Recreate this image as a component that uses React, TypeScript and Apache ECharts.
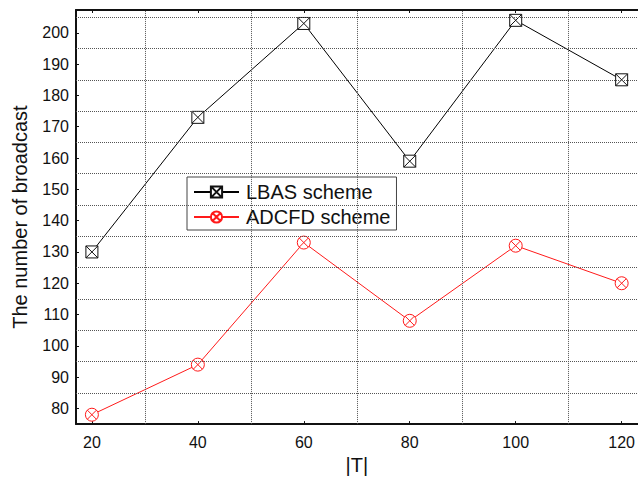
import React, { useEffect, useRef } from "react";
import * as echarts from "echarts";

const xValues = [20, 40, 60, 80, 100, 120];
const lbas = [130, 173, 203, 159, 204, 185];
const adcfd = [78, 94, 133, 108, 132, 120];
const xTickLabels = [20, 40, 60, 80, 100, 120];
const yTickLabels = [80, 90, 100, 110, 120, 130, 140, 150, 160, 170, 180, 190, 200];
const xGridValues = [30, 50, 70, 90, 110];
const yGridValues = [85, 95, 105, 115, 125, 135, 145, 155, 165, 175, 185, 195, 205];

const FONT = "Liberation Sans, Arial, Helvetica, sans-serif";
const SQUARE_X = "path://M0,0L10,0L10,10L0,10ZM0,0L10,10M10,0L0,10";
const CIRCLE_X =
  "path://M0,5A5,5,0,1,1,10,5A5,5,0,1,1,0,5ZM1.46,1.46L8.54,8.54M8.54,1.46L1.46,8.54";

export default function App() {
  const ref = useRef<HTMLDivElement>(null);
  useEffect(() => {
    if (!ref.current) return;
    const chart = echarts.init(ref.current, null, { renderer: "svg" });
    const axisLine = { show: true, lineStyle: { color: "#111", width: 2 } };
    chart.setOption({
      animation: false,
      backgroundColor: "#fff",
      grid: { left: 76, top: 10, width: 564, bottom: 54, containLabel: false },
      xAxis: [
        {
          type: "value",
          min: 17,
          max: 123,
          position: "bottom",
          axisLine,
          axisTick: { show: true, inside: true, length: 3, customValues: xTickLabels, lineStyle: { color: "#111" } },
          axisLabel: { customValues: xTickLabels, fontSize: 16, margin: 10, color: "#111", fontFamily: FONT },
          splitLine: { show: false },
          name: "|T|",
          nameLocation: "middle",
          nameGap: 28,
          nameTextStyle: { fontSize: 20, color: "#111", fontFamily: FONT },
        },
        {
          type: "value",
          min: 17,
          max: 123,
          position: "top",
          axisLine,
          axisTick: { show: true, inside: true, length: 3, customValues: xTickLabels, lineStyle: { color: "#111" } },
          axisLabel: { show: false },
          splitLine: { show: false },
        },
      ],
      yAxis: [
        {
          type: "value",
          min: 75,
          max: 207.3,
          axisLine,
          axisTick: { show: true, inside: true, length: 3, customValues: yTickLabels, lineStyle: { color: "#111" } },
          axisLabel: { customValues: yTickLabels, fontSize: 16, margin: 7, color: "#111", fontFamily: FONT },
          splitLine: { show: false },
          name: "The number of broadcast",
          nameLocation: "middle",
          nameGap: 46,
          nameTextStyle: { fontSize: 20, color: "#111", fontFamily: FONT },
        },
      ],
      legend: {
        data: ["LBAS scheme", "ADCFD scheme"],
        orient: "vertical",
        left: 187,
        top: 177,
        padding: [5, 6, 3, 6],
        itemGap: 5,
        itemWidth: 45,
        itemHeight: 14,
        backgroundColor: "#fff",
        borderColor: "#444",
        borderWidth: 1,
        borderRadius: 0,
        textStyle: { fontSize: 20, color: "#111", fontFamily: FONT, lineHeight: 20, padding: [0, 0, 0, 2] },
      },
      series: [
        {
          name: "grid",
          type: "line",
          data: [],
          z: 1,
          silent: true,
          markLine: {
            silent: true,
            symbol: ["none", "none"],
            label: { show: false },
            lineStyle: { type: [1, 1], color: "#555", width: 1 },
            emphasis: { disabled: true },
            data: [
              ...xGridValues.map((v) => ({ xAxis: v })),
              ...yGridValues.map((v) => ({ yAxis: v })),
            ],
          },
        },
        {
          name: "LBAS scheme",
          type: "line",
          z: 3,
          data: xValues.map((x, i) => [x, lbas[i]]),
          symbol: SQUARE_X,
          symbolSize: 12,
          showAllSymbol: true,
          lineStyle: { color: "#000", width: 1 },
          itemStyle: { color: "#fff", borderColor: "#111", borderWidth: 1 },
        },
        {
          name: "ADCFD scheme",
          type: "line",
          z: 3,
          data: xValues.map((x, i) => [x, adcfd[i]]),
          symbol: CIRCLE_X,
          symbolSize: 13,
          showAllSymbol: true,
          lineStyle: { color: "#ff1a1a", width: 1 },
          itemStyle: { color: "#fff", borderColor: "#ff1a1a", borderWidth: 1 },
        },
      ],
    });
    return () => chart.dispose();
  }, []);
  return (
    <div
      ref={ref}
      style={{ position: "fixed", left: 0, top: 0, width: 638, height: 480, background: "#fff" }}
    />
  );
}
